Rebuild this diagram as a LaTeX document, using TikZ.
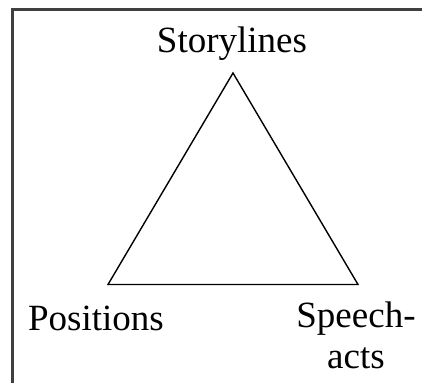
\documentclass[tikz,border=0pt]{standalone}
\usepackage{fontspec}
\setmainfont{Liberation Serif}
\begin{document}
\begin{tikzpicture}[x=1pt, y=-1pt]
\useasboundingbox (0,0) rectangle (422,383);
\tikzset{corner/.style={font=\fontsize{37}{41}\selectfont, inner sep=0pt, align=center}}

% Frame
\draw[line width=2.2pt, black!75] (12.5,383) -- (12.5,9.5) -- (422,9.5);

% Triangle
\coordinate (apex) at (233,73);
\coordinate (bl) at (108,284.5);
\coordinate (br) at (358,284.5);
\draw[line width=1.4pt, line join=miter] (apex) -- (bl) -- (br) -- cycle;

% Labels
\node[corner, anchor=base] (story) at (232,52) {Storylines};
\node[corner, anchor=base] (pos) at (96,330) {Positions};
\node[corner, anchor=north] (speech) at (356,302) {Speech-\\acts};
\end{tikzpicture}
\end{document}
